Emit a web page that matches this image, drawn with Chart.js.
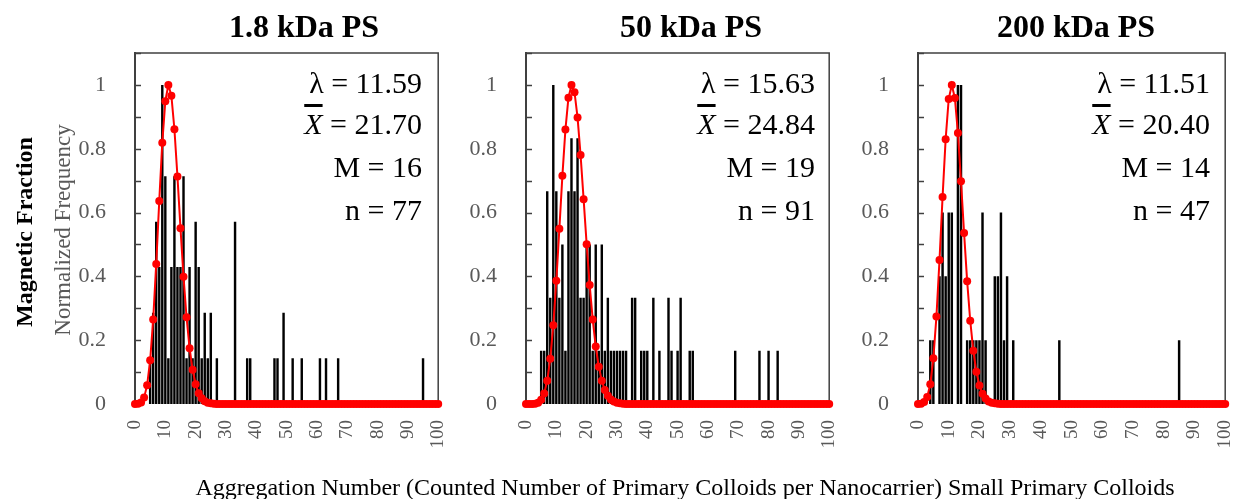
<!DOCTYPE html>
<html>
<head>
<meta charset="utf-8">
<script src="https://cdn.jsdelivr.net/npm/chart.js@4.4.1/dist/chart.umd.min.js"></script>
<style>
  html, body { margin:0; padding:0; background:#fff; overflow:hidden; }
  #wrap { position:relative; width:1236px; height:499px; overflow:hidden; font-family:"Liberation Serif","Times New Roman",serif; }
  canvas { position:absolute; top:0; }
  .t { position:absolute; white-space:nowrap; color:#000; }
  .ptitle { font-weight:bold; font-size:32px; transform:translate(-50%,-50%); }
  .ann { font-size:30px; text-align:right; transform:translateY(-50%); }
  .rot { transform:translate(-50%,-50%) rotate(-90deg); }
</style>
</head>
<body>
<div id="wrap">
  <canvas id="c1" width="469" height="499" style="left:0px"></canvas>
  <canvas id="c2" width="410" height="499" style="left:450px"></canvas>
  <canvas id="c3" width="406" height="499" style="left:850px"></canvas>

  <div class="t ptitle" style="left:304px; top:26px">1.8 kDa PS</div>
  <div class="t ptitle" style="left:691px; top:26px">50 kDa PS</div>
  <div class="t ptitle" style="left:1076px; top:26px">200 kDa PS</div>

  <div class="t rot" style="left:24px; top:232px; font-weight:bold; font-size:24px;">Magnetic Fraction</div>
  <div class="t rot" style="left:63px; top:230px; font-size:23px; color:#595959;">Normalized Frequency</div>

  <div class="t" style="left:685px; top:487px; font-size:24px; transform:translate(-50%,-50%);">Aggregation Number (Counted Number of Primary Colloids per Nanocarrier) Small Primary Colloids</div>

  <div id="ann"></div>
</div>
<script>
// ---------- data ----------
// Panel 1: 1.8 kDa PS  (normalized frequency, histogram)
const p1Bins = [5,6,7,8,9,10,11,12,13,14,15,16,17,18,19,20,21,22,23,24,25,27,33,37,38,46,47,49,52,55,61,63,67,95];
const p1Freq = [0.143,0.286,0.571,0.429,1,0.714,0.143,0.429,0.714,0.429,0.429,0.714,0.143,0.429,0.143,0.571,0.429,0.143,0.286,0.143,0.286,0.143,0.571,0.143,0.143,0.143,0.143,0.286,0.143,0.143,0.143,0.143,0.143,0.143];
// Poisson fit (normalized), points at aggregation number 0..100
const p1Fit = [
  0,0.001,0.005,0.020,0.059,0.137,0.265,0.439,0.636,0.819,
  0.949,1,0.966,0.861,0.713,0.551,0.399,0.272,0.175,0.107,
  0.062,0.034,0.018,0.009,0.004,0.002,0.001,0,0,0,
  0,0,0,0,0,0,0,0,0,0,
  0,0,0,0,0,0,0,0,0,0,
  0,0,0,0,0,0,0,0,0,0,
  0,0,0,0,0,0,0,0,0,0,
  0,0,0,0,0,0,0,0,0,0,
  0,0,0,0,0,0,0,0,0,0,
  0,0,0,0,0,0,0,0,0,0,
  0];

// Panel 2: 50 kDa PS
const p2Bins = [5,6,7,8,9,10,11,12,13,14,15,16,17,18,19,20,21,22,23,24,25,26,27,28,29,30,31,32,33,35,36,38,39,40,42,44,47,48,50,51,54,55,69,77,80,83];
const p2Freq = [0.167,0.167,0.667,0.333,1,0.667,0.333,0.5,0.167,0.667,0.833,0.667,0.833,0.333,0.333,0.5,0.5,0.167,0.5,0.167,0.5,0.167,0.333,0.167,0.167,0.167,0.167,0.167,0.167,0.333,0.333,0.167,0.167,0.167,0.333,0.167,0.333,0.167,0.167,0.333,0.167,0.167,0.167,0.167,0.167,0.167];
const p2Fit = [
  0,0,0,0.001,0.004,0.013,0.033,0.073,0.142,0.247,
  0.386,0.549,0.715,0.860,0.960,1,0.977,0.898,0.780,0.642,
  0.501,0.373,0.265,0.180,0.117,0.073,0.044,0.026,0.014,0.008,
  0.004,0.002,0.001,0,0,0,0,0,0,0,
  0,0,0,0,0,0,0,0,0,0,
  0,0,0,0,0,0,0,0,0,0,
  0,0,0,0,0,0,0,0,0,0,
  0,0,0,0,0,0,0,0,0,0,
  0,0,0,0,0,0,0,0,0,0,
  0,0,0,0,0,0,0,0,0,0,
  0];

// Panel 3: 200 kDa PS
const p3Bins = [4,5,7,8,9,10,11,13,14,16,17,18,19,20,21,22,25,26,27,28,29,31,46,85];
const p3Freq = [0.2,0.2,0.4,0.6,0.4,0.6,0.6,1,1,0.2,0.2,0.2,0.2,0.2,0.6,0.2,0.4,0.4,0.6,0.2,0.4,0.2,0.2,0.2];
const p3Fit = [
  0,0.001,0.006,0.022,0.062,0.143,0.274,0.451,0.649,0.830,
  0.956,1,0.959,0.849,0.698,0.536,0.385,0.261,0.167,0.101,
  0.058,0.032,0.017,0.008,0.004,0.002,0.001,0,0,0,
  0,0,0,0,0,0,0,0,0,0,
  0,0,0,0,0,0,0,0,0,0,
  0,0,0,0,0,0,0,0,0,0,
  0,0,0,0,0,0,0,0,0,0,
  0,0,0,0,0,0,0,0,0,0,
  0,0,0,0,0,0,0,0,0,0,
  0,0,0,0,0,0,0,0,0,0,
  0];

// statistics text
const panelTitles = ["1.8 kDa PS","50 kDa PS","200 kDa PS"];
const lambdas = ["11.59","15.63","11.51"];
const means   = ["21.70","24.84","20.40"];
const medians = ["16","19","14"];
const counts  = ["77","91","47"];
const xTicks = [0,10,20,30,40,50,60,70,80,90,100];
const yTicks = [0,0.2,0.4,0.6,0.8,1];

// ---------- drawing ----------
const SERIF = "'Liberation Serif','Times New Roman',serif";
const GRAY = '#595959';

const frame = {
  id:'frame',
  beforeDatasetsDraw(chart){
    const {ctx, chartArea:a, scales:{y}} = chart;
    ctx.save();
    ctx.strokeStyle = '#404040';
    ctx.lineWidth = 1.5;
    for (let v = 0; v <= 11; v++) {
      const py = Math.round(y.getPixelForValue(v/10)) + 0.5;
      ctx.beginPath(); ctx.moveTo(a.left-1, py); ctx.lineTo(a.left+6, py); ctx.stroke();
    }
    ctx.beginPath();
    ctx.moveTo(a.left, a.top); ctx.lineTo(a.right, a.top); ctx.lineTo(a.right, a.bottom);
    ctx.stroke();
    ctx.restore();
  }
};

function makeChart(id, bins, freq, fit, yW){
  return new Chart(document.getElementById(id), {
    type:'bar',
    data:{ datasets:[
      { type:'line', data: fit.map((v,i)=>({x:xTicks[0]+i, y:v})),
        borderColor:'#ff0000', backgroundColor:'#ff0000', borderWidth:2,
        pointRadius:4, pointBorderWidth:0, pointBackgroundColor:'#ff0000',
        tension:0, clip:false, order:0 },
      { type:'bar', data: bins.map((b,i)=>({x:b, y:freq[i]})),
        backgroundColor:'#000', borderWidth:0, barPercentage:0.8, categoryPercentage:1, order:1 }
    ]},
    options:{
      responsive:false, animation:false, devicePixelRatio:1,
      layout:{ padding:{ left:0, right:0, top:53, bottom:0 } },
      plugins:{ legend:{display:false}, tooltip:{enabled:false}, title:{display:false} },
      scales:{
        x:{ type:'linear', min:xTicks[0], max:xTicks[xTicks.length-1], offset:false,
            grid:{display:false}, border:{display:false},
            afterBuildTicks: s => { s.ticks = xTicks.map(v=>({value:v})); },
            ticks:{ minRotation:90, maxRotation:90, padding:8, color:GRAY, autoSkip:false,
                    font:{family:SERIF, size:19} },
            afterFit: s => { s.height = 95; } },
        y:{ min:0, max:1.1,
            grid:{display:false}, border:{display:true, color:'#404040', width:2},
            afterBuildTicks: s => { s.ticks = yTicks.map(v=>({value:v})); },
            ticks:{ padding:21, color:GRAY, font:{family:SERIF, size:22},
                    callback: v => String(Math.round(v*10)/10) },
            afterFit: s => { s.width = yW; } }
      }
    },
    plugins:[frame]
  });
}

makeChart('c1', p1Bins, p1Freq, p1Fit, 135);
makeChart('c2', p2Bins, p2Freq, p2Fit, 76);
makeChart('c3', p3Bins, p3Freq, p3Fit, 68);

// statistics annotations
const rightEdges = [422, 815, 1210];
const rowY = [83, 124, 167, 210];
const ann = document.getElementById('ann');
rightEdges.forEach((r, i) => {
  const lines = [
    'λ = ' + lambdas[i],
    '<span style="text-decoration:overline"><i>X</i></span> = ' + means[i],
    'M = ' + medians[i],
    'n = ' + counts[i]
  ];
  lines.forEach((html, j) => {
    const d = document.createElement('div');
    d.className = 't ann';
    d.style.left = '0px';
    d.style.width = r + 'px';
    d.style.top = rowY[j] + 'px';
    d.innerHTML = html;
    ann.appendChild(d);
  });
});
</script>
</body>
</html>
